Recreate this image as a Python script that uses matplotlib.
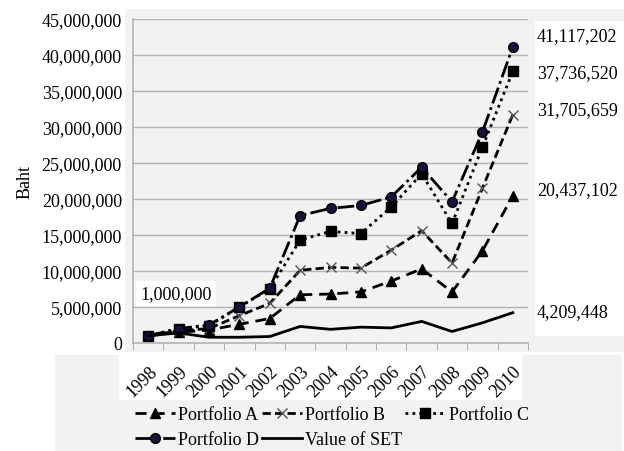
import matplotlib.pyplot as plt
import numpy as np
from matplotlib.patches import Rectangle
from matplotlib.ticker import FuncFormatter, MultipleLocator, FixedLocator

plt.rcParams['font.family'] = ['Liberation Serif', 'DejaVu Serif']

years = ["1998", "1999", "2000", "2001", "2002", "2003", "2004",
         "2005", "2006", "2007", "2008", "2009", "2010"]

portfolio_a = [1.0, 1.5, 1.8, 2.6, 3.4, 6.7, 6.8, 7.1, 8.6, 10.3, 7.1, 12.8, 20.437102]
portfolio_b = [1.0, 1.7, 2.0, 3.8, 5.5, 10.1, 10.5, 10.4, 12.9, 15.6, 11.1, 21.5, 31.705659]
portfolio_c = [1.0, 2.0, 2.4, 5.0, 7.5, 14.3, 15.5, 15.2, 18.9, 23.5, 16.6, 27.2, 37.736520]
portfolio_d = [1.0, 2.0, 2.5, 5.0, 7.6, 17.7, 18.7, 19.1, 20.3, 24.4, 19.6, 29.3, 41.117202]
value_set = [1.0, 1.4, 0.8, 0.8, 0.9, 2.3, 1.9, 2.2, 2.1, 3.0, 1.6, 2.8, 4.209448]

end_labels = ["41,117,202", "37,736,520", "31,705,659", "20,437,102", "4,209,448"]
end_label_y = [37, 74, 111, 191, 313]   # pixel rows, from top

W, H = 624, 452
fig = plt.figure(figsize=(W / 100, H / 100), dpi=100)
fig.patch.set_facecolor("white")

gray = "#f2f2f2"
def px_rect(x0, y0, x1, y1, color):
    fig.patches.append(Rectangle((x0 / W, 1 - y1 / H), (x1 - x0) / W, (y1 - y0) / H,
                                 transform=fig.transFigure, facecolor=color,
                                 edgecolor="none", zorder=-10))

# background blocks (Excel-like chart area)
px_rect(125, 10, 624, 353, gray)
px_rect(55, 356, 622, 452, gray)
px_rect(535, 22, 624, 337, "white")
px_rect(119, 356, 522, 401, "white")

ax = fig.add_axes([133 / W, 1 - 344 / H, (528 - 133) / W, (344 - 20) / H])
ax.set_facecolor(gray)

x = np.arange(len(years))
scale = 1e6
lw = 2.0
ax.plot(x, np.array(portfolio_a) * scale, color="black", lw=lw, linestyle=(0, (4, 2.5)),
        marker="^", markersize=7, label="Portfolio A")
ax.plot(x, np.array(portfolio_b) * scale, color="black", lw=lw, linestyle=(0, (3, 1.5)),
        marker="x", markersize=7, markeredgecolor="#555555", markeredgewidth=1, label="Portfolio B")
ax.plot(x, np.array(portfolio_c) * scale, color="black", lw=lw, linestyle=(0, (1, 1.5)),
        marker="s", markersize=7, label="Portfolio C")
ax.plot(x, np.array(portfolio_d) * scale, color="black", lw=lw, linestyle=(0, (6, 1.5, 1, 1.5)),
        marker="o", markersize=7, markerfacecolor="#14143c", markeredgecolor="black",
        label="Portfolio D")
ax.plot(x, np.array(value_set) * scale, color="black", lw=lw, linestyle="-", label="Value of SET")

ax.set_xlim(-0.5, len(years) - 0.5)
ax.set_ylim(0, 45e6)
ax.yaxis.set_major_locator(MultipleLocator(5e6))
ax.yaxis.set_major_formatter(FuncFormatter(lambda v, p: f"{int(v):,}"))
ax.grid(axis="y", color="#b4b4b4", lw=1)
ax.set_axisbelow(True)

ax.set_xticks(x)
ax.set_xticklabels(years, rotation=45, ha="right", rotation_mode="anchor")
ax.xaxis.set_minor_locator(FixedLocator(np.arange(-0.5, len(years), 1)))
ax.tick_params(axis="x", which="major", length=0, labelsize=13, pad=14)
ax.tick_params(axis="x", which="minor", length=5, color="#a0a0a0", direction="out")
ax.tick_params(axis="y", length=0, labelsize=13, pad=8)

for s in ["top", "right"]:
    ax.spines[s].set_visible(False)
for s in ["left", "bottom"]:
    ax.spines[s].set_color("#b4b4b4")
    ax.spines[s].set_linewidth(1.2)

ax.set_ylabel("Baht", fontsize=13, labelpad=6)

ax.text(-0.25, 6.9e6, "1,000,000", fontsize=13, ha="left", va="center",
        bbox=dict(facecolor="white", edgecolor="none", pad=3))

for lab, ypx in zip(end_labels, end_label_y):
    fig.text(537 / W, 1 - ypx / H, lab, fontsize=13, ha="left", va="center")

handles, labels = ax.get_legend_handles_labels()
order = [0, 3, 1, 4, 2]
leg = fig.legend([handles[i] for i in order], [labels[i] for i in order],
                 ncol=3, loc="upper left", bbox_to_anchor=(135 / W, 1 - 407 / H),
                 frameon=False, fontsize=13, handlelength=2.2, handletextpad=0.2,
                 columnspacing=0.15, labelspacing=0.45, borderaxespad=0, borderpad=0)

fig.savefig("out.png", dpi=100, facecolor=fig.get_facecolor())
